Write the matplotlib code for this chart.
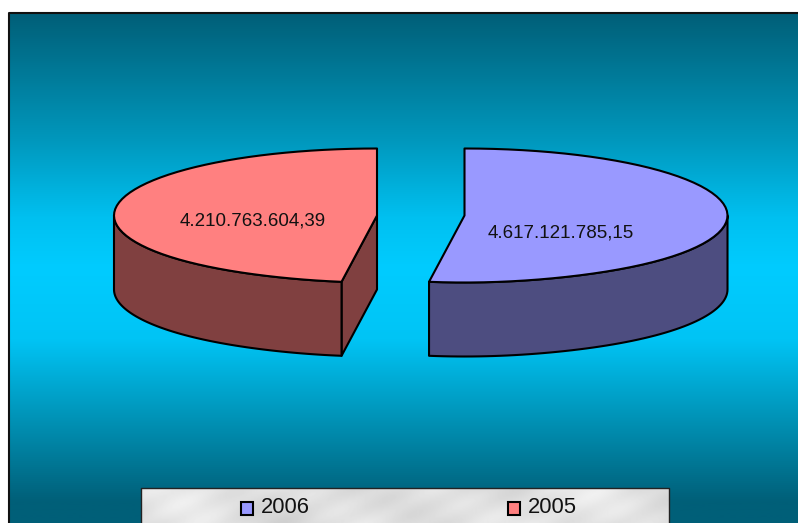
import matplotlib
matplotlib.use("Agg")
import matplotlib.pyplot as plt
import numpy as np
from matplotlib.colors import LinearSegmentedColormap
from matplotlib.patches import Polygon, Rectangle

plt.rcParams['font.family'] = ['Liberation Sans', 'DejaVu Sans']

years = ["2006", "2005"]
values = [4617121785.15, 4210763604.39]
value_labels = ["4.617.121.785,15", "4.210.763.604,39"]

top_colors = ["#9999ff", "#ff8080"]
side_colors = ["#4d4d80", "#804040"]
centers = [(464.5, 215.5), (377, 215.5)]
label_pos = [(560.5, 233), (252.5, 221.5)]
rx, ry = 263, 67
depth = 74

fig = plt.figure(figsize=(7.98, 5.23), dpi=100)
ax = fig.add_axes([0, 0, 1, 1])

# slide background, cyan in the middle, runs down behind the legend
cmap = LinearSegmentedColormap.from_list("bg", [(0, "#005f78"), (0.25, "#0098bd"), (0.40, "#00c0f0"),
                                                (0.50, "#00ccff"), (0.64, "#00c4f5"), (0.78, "#0098bd"),
                                                (0.96, "#005f78"), (1, "#005f78")])
grad = np.linspace(0, 1, 512).reshape(-1, 1)
ax.imshow(grad, cmap=cmap, extent=[9, 800, 523, 13], aspect="auto", zorder=0)
ax.plot([8.5, 8.5, 798], [523, 12.5, 12.5], color="#111111", lw=1.5, zorder=1, solid_capstyle="butt")


def rim(cx, cy, a0, a1, n=60):
    a = np.radians(np.linspace(a0, a1, n))
    # front of the 3D pie is drawn a little narrower than a true ellipse
    squeeze = 1 - 0.07 * np.maximum(-np.cos(a), 0) ** 8
    return cx + rx * np.sin(a) * squeeze, cy - ry * np.cos(a)


# angles clockwise from 12 o'clock, from the values
frac = np.array(values) / sum(values)
split = 360 * frac[0]
spans = [(0, split), (split, 360)]

for i, (a0, a1) in enumerate(spans):
    cx, cy = centers[i]
    x, y = rim(cx, cy, a0, a1)
    # outer wall only where the rim faces the viewer
    lo, hi = max(a0, 90), min(a1, 270)
    wx, wy = rim(cx, cy, lo, hi)
    wall = np.r_[np.c_[wx, wy], np.c_[wx, wy + depth][::-1]]
    if i == 1:
        # cut face running back to the centre
        ex, ey = rim(cx, cy, a0, a0, 1)
        cut = [(cx, cy), (ex[0], ey[0]), (ex[0], ey[0] + depth), (cx, cy + depth)]
        ax.add_patch(Polygon(cut, fc=side_colors[i], ec="black", lw=1.5, joinstyle="round", zorder=3))
    ax.add_patch(Polygon(wall, fc=side_colors[i], ec="black", lw=1.5, joinstyle="round", zorder=4))
    top = np.r_[[[cx, cy]], np.c_[x, y]]
    ax.add_patch(Polygon(top, fc=top_colors[i], ec="black", lw=1.5, joinstyle="round", zorder=5))
    ax.text(label_pos[i][0], label_pos[i][1], value_labels[i], fontsize=13.5, ha="center", va="center",
            color="#111111", zorder=6)

# legend panel with a soft marble look
yy, xx = np.mgrid[0:36, 0:529]
marble = (0.88 + 0.03 * np.sin((xx + 1.3 * yy) / 41.0) * np.sin((xx - yy) / 97.0 + 0.6)
          + 0.025 * np.sin((xx - 1.5 * yy) / 23.0 + 1.0) + 0.012 * np.sin((xx + 2 * yy) / 9.0))
ax.imshow(marble, cmap="gray", vmin=0, vmax=1, extent=[141, 669, 524, 488], aspect="auto", zorder=7)
ax.plot([140.5, 140.5, 668.5, 668.5], [523, 487.5, 487.5, 523], color="#222222", lw=1, zorder=8)

legend_x = [240.5, 507.5]
for i, name in enumerate(years):
    ax.add_patch(Rectangle((legend_x[i], 501.5), 12, 13, fc=top_colors[i], ec="black", lw=1.5, zorder=9))
    ax.text(legend_x[i] + 20.5, 507.5, name, fontsize=15.8, ha="left", va="center", color="#111111", zorder=9)

ax.set_xlim(0, 798)
ax.set_ylim(523, 0)
ax.axis("off")

fig.savefig("out.png", dpi=100)
